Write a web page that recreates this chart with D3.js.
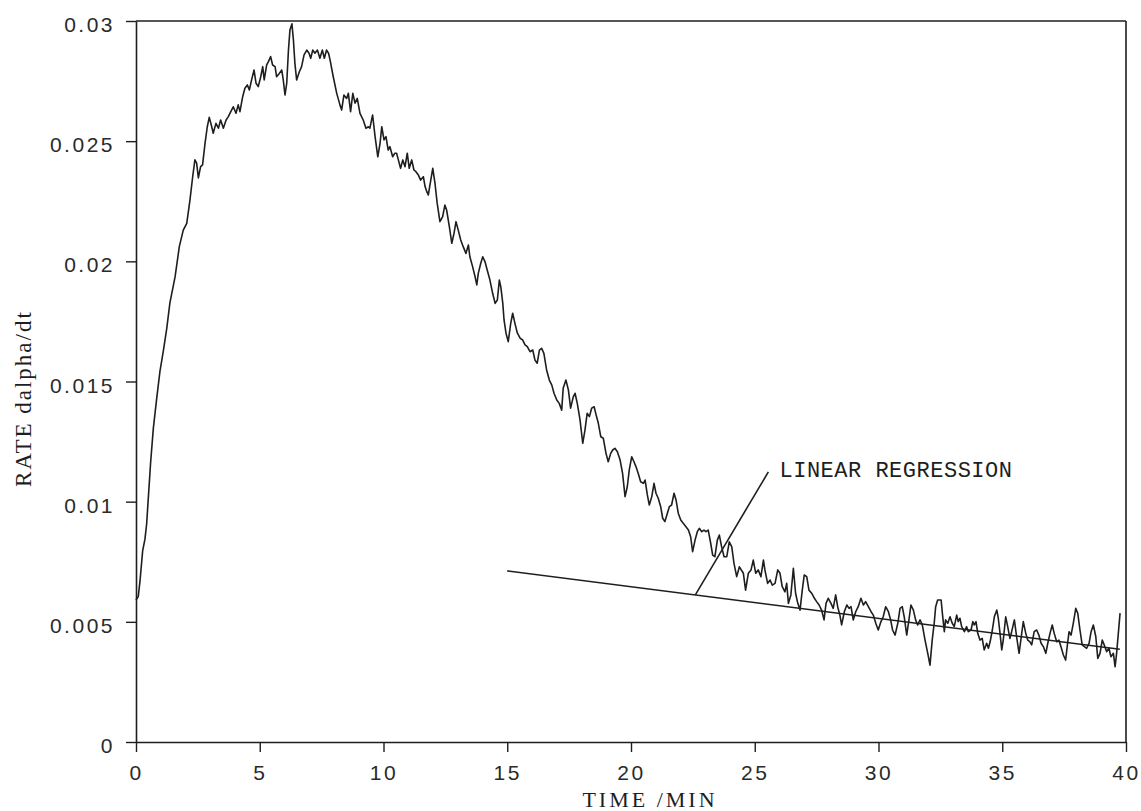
<!DOCTYPE html>
<html>
<head>
<meta charset="utf-8">
<script src="https://cdn.jsdelivr.net/npm/d3@7"></script>
<style>
  body { margin: 0; background: #fff; }
  svg { display: block; }
</style>
</head>
<body>
<svg id="chart" width="1141" height="811"></svg>
<script>
// Reaction rate trace: time in minutes, rate dalpha/dt
const time = [
  0, 0.09, 0.16, 0.27, 0.36, 0.43, 0.50, 0.59, 0.70, 0.84, 0.97, 1.10, 1.24, 1.37, 1.58, 1.75, 1.91, 2.05, 2.18, 2.29,
  2.38, 2.45, 2.52, 2.61, 2.69, 2.79, 2.88, 2.96, 3.06, 3.12, 3.23, 3.33, 3.42, 3.53, 3.64, 3.73, 3.83, 3.93, 4.04, 4.13,
  4.20, 4.31, 4.40, 4.50, 4.58, 4.67, 4.77, 4.85, 4.94, 5.04, 5.12, 5.18, 5.28, 5.35, 5.44, 5.52, 5.62, 5.68, 5.79, 5.89,
  5.95, 6.02, 6.09, 6.16, 6.22, 6.30, 6.36, 6.42, 6.49, 6.60, 6.69, 6.79, 6.90, 6.99, 7.06, 7.14, 7.23, 7.33, 7.43, 7.53,
  7.61, 7.70, 7.78, 7.84, 7.97, 8.11, 8.24, 8.31, 8.40, 8.51, 8.58, 8.67, 8.76, 8.85, 8.94, 9.05, 9.18, 9.29, 9.39, 9.45,
  9.56, 9.66, 9.77, 9.86, 9.93, 10.02, 10.10, 10.19, 10.26, 10.37, 10.46, 10.53, 10.60, 10.69, 10.78, 10.87, 10.96, 11.04, 11.14, 11.23,
  11.31, 11.41, 11.50, 11.61, 11.68, 11.75, 11.81, 11.91, 11.99, 12.08, 12.17, 12.28, 12.39, 12.48, 12.55, 12.66, 12.76, 12.85, 12.93, 13.02,
  13.12, 13.22, 13.33, 13.43, 13.49, 13.60, 13.70, 13.77, 13.83, 13.93, 14.01, 14.10, 14.19, 14.30, 14.41, 14.51, 14.60, 14.68, 14.74, 14.82,
  14.87, 14.95, 15.04, 15.14, 15.22, 15.31, 15.41, 15.52, 15.62, 15.72, 15.81, 15.92, 16.03, 16.12, 16.21, 16.30, 16.39, 16.48, 16.59, 16.70,
  16.80, 16.89, 17.00, 17.10, 17.20, 17.26, 17.37, 17.47, 17.56, 17.67, 17.74, 17.83, 17.94, 18.05, 18.14, 18.23, 18.32, 18.41, 18.51, 18.59,
  18.68, 18.78, 18.88, 18.99, 19.08, 19.18, 19.26, 19.35, 19.45, 19.56, 19.66, 19.76, 19.85, 19.93, 20.03, 20.12, 20.20, 20.29, 20.39, 20.50,
  20.57, 20.66, 20.74, 20.84, 20.93, 21.01, 21.10, 21.20, 21.28, 21.37, 21.47, 21.55, 21.64, 21.74, 21.82, 21.91, 22.01, 22.11, 22.22, 22.32,
  22.41, 22.49, 22.59, 22.68, 22.76, 22.86, 22.95, 23.03, 23.12, 23.22, 23.30, 23.39, 23.49, 23.57, 23.66, 23.76, 23.87, 23.97, 24.07, 24.16,
  24.27, 24.38, 24.54, 24.63, 24.74, 24.85, 24.94, 25.04, 25.14, 25.25, 25.35, 25.41, 25.52, 25.62, 25.71, 25.82, 25.93, 26.02, 26.11, 26.22,
  26.29, 26.36, 26.46, 26.56, 26.65, 26.74, 26.83, 26.92, 27.00, 27.10, 27.19, 27.30, 27.41, 27.50, 27.60, 27.70, 27.80, 27.88, 27.97, 28.08,
  28.17, 28.27, 28.35, 28.44, 28.51, 28.62, 28.72, 28.81, 28.89, 28.98, 29.08, 29.18, 29.29, 29.39, 29.48, 29.59, 29.70, 29.79, 29.89, 29.99,
  30.10, 30.19, 30.29, 30.40, 30.49, 30.57, 30.67, 30.78, 30.87, 30.96, 31.04, 31.14, 31.23, 31.31, 31.41, 31.50, 31.58, 31.68, 31.77, 31.88,
  31.99, 32.08, 32.17, 32.25, 32.31, 32.39, 32.53, 32.58, 32.66, 32.71, 32.80, 32.89, 32.98, 33.06, 33.16, 33.22, 33.29, 33.36, 33.47, 33.56,
  33.63, 33.74, 33.81, 33.87, 33.94, 34.01, 34.10, 34.19, 34.27, 34.37, 34.44, 34.51, 34.60, 34.68, 34.78, 34.84, 34.91, 34.98, 35.04, 35.14,
  35.22, 35.31, 35.38, 35.49, 35.58, 35.68, 35.76, 35.85, 35.95, 36.03, 36.12, 36.19, 36.29, 36.39, 36.48, 36.57, 36.66, 36.76, 36.84, 36.93,
  37.02, 37.10, 37.20, 37.29, 37.37, 37.47, 37.56, 37.64, 37.70, 37.78, 37.87, 37.97, 38.05, 38.14, 38.23, 38.32, 38.41, 38.51, 38.59, 38.68,
  38.78, 38.86, 38.95, 39.04, 39.12, 39.22, 39.31, 39.39, 39.49, 39.56, 39.62, 39.69, 39.76
];

const rate = [
  0.00591, 0.00605, 0.00668, 0.00796, 0.00843, 0.00907, 0.01019, 0.01162, 0.01305, 0.01433, 0.01544, 0.01624, 0.01719, 0.01827, 0.01936, 0.02061, 0.02130, 0.02158, 0.02255, 0.02352,
  0.02422, 0.02409, 0.02347, 0.02394, 0.02401, 0.02492, 0.02560, 0.02599, 0.02560, 0.02533, 0.02574, 0.02554, 0.02588, 0.02554, 0.02588, 0.02602, 0.02623, 0.02643, 0.02616, 0.02651,
  0.02623, 0.02685, 0.02720, 0.02734, 0.02713, 0.02755, 0.02796, 0.02741, 0.02727, 0.02768, 0.02810, 0.02755, 0.02817, 0.02831, 0.02852, 0.02817, 0.02810, 0.02768, 0.02782, 0.02796,
  0.02755, 0.02692, 0.02741, 0.02879, 0.02963, 0.02988, 0.02921, 0.02824, 0.02755, 0.02789, 0.02810, 0.02859, 0.02879, 0.02866, 0.02845, 0.02879, 0.02866, 0.02879, 0.02845, 0.02879,
  0.02845, 0.02879, 0.02866, 0.02838, 0.02768, 0.02699, 0.02651, 0.02630, 0.02692, 0.02678, 0.02699, 0.02623, 0.02699, 0.02658, 0.02678, 0.02616, 0.02588, 0.02554, 0.02560, 0.02554,
  0.02609, 0.02519, 0.02435, 0.02491, 0.02560, 0.02505, 0.02519, 0.02463, 0.02477, 0.02435, 0.02450, 0.02450, 0.02422, 0.02387, 0.02422, 0.02394, 0.02450, 0.02387, 0.02422, 0.02380,
  0.02373, 0.02359, 0.02338, 0.02352, 0.02311, 0.02290, 0.02276, 0.02338, 0.02387, 0.02325, 0.02241, 0.02165, 0.02186, 0.02234, 0.02214, 0.02144, 0.02075, 0.02117, 0.02165, 0.02130,
  0.02089, 0.02061, 0.02033, 0.02068, 0.02019, 0.01978, 0.01936, 0.01902, 0.01950, 0.01992, 0.02019, 0.01999, 0.01964, 0.01922, 0.01867, 0.01825, 0.01839, 0.01922, 0.01894, 0.01825,
  0.01756, 0.01701, 0.01666, 0.01742, 0.01784, 0.01742, 0.01701, 0.01680, 0.01673, 0.01652, 0.01645, 0.01624, 0.01631, 0.01589, 0.01576, 0.01631, 0.01638, 0.01617, 0.01548, 0.01506,
  0.01485, 0.01451, 0.01423, 0.01409, 0.01381, 0.01472, 0.01506, 0.01465, 0.01389, 0.01437, 0.01451, 0.01409, 0.01340, 0.01243, 0.01298, 0.01368, 0.01354, 0.01389, 0.01395, 0.01361,
  0.01326, 0.01270, 0.01264, 0.01201, 0.01166, 0.01201, 0.01215, 0.01222, 0.01208, 0.01173, 0.01118, 0.01021, 0.01062, 0.01132, 0.01187, 0.01166, 0.01146, 0.01118, 0.01083, 0.01076,
  0.01090, 0.01028, 0.00986, 0.01021, 0.01076, 0.01035, 0.01014, 0.00979, 0.00931, 0.00917, 0.00952, 0.00979, 0.00986, 0.01035, 0.01007, 0.00952, 0.00924, 0.00910, 0.00896, 0.00882,
  0.00854, 0.00792, 0.00841, 0.00875, 0.00889, 0.00875, 0.00882, 0.00875, 0.00882, 0.00827, 0.00778, 0.00771, 0.00841, 0.00861, 0.00813, 0.00771, 0.00771, 0.00833, 0.00813, 0.00744,
  0.00688, 0.00729, 0.00702, 0.00632, 0.00702, 0.00716, 0.00757, 0.00702, 0.00716, 0.00688, 0.00757, 0.00716, 0.00660, 0.00674, 0.00653, 0.00660, 0.00716, 0.00702, 0.00646, 0.00625,
  0.00660, 0.00577, 0.00612, 0.00723, 0.00619, 0.00577, 0.00549, 0.00632, 0.00695, 0.00688, 0.00632, 0.00619, 0.00598, 0.00584, 0.00570, 0.00549, 0.00508, 0.00577, 0.00598, 0.00577,
  0.00556, 0.00612, 0.00563, 0.00528, 0.00487, 0.00542, 0.00570, 0.00556, 0.00563, 0.00508, 0.00542, 0.00563, 0.00598, 0.00570, 0.00584, 0.00563, 0.00542, 0.00528, 0.00494, 0.00466,
  0.00501, 0.00521, 0.00563, 0.00542, 0.00508, 0.00466, 0.00445, 0.00494, 0.00556, 0.00563, 0.00521, 0.00445, 0.00508, 0.00570, 0.00549, 0.00508, 0.00487, 0.00508, 0.00487, 0.00424,
  0.00369, 0.00320, 0.00424, 0.00494, 0.00563, 0.00591, 0.00591, 0.00536, 0.00459, 0.00508, 0.00494, 0.00521, 0.00494, 0.00480, 0.00528, 0.00501, 0.00515, 0.00480, 0.00459, 0.00480,
  0.00459, 0.00466, 0.00501, 0.00487, 0.00501, 0.00452, 0.00424, 0.00431, 0.00383, 0.00411, 0.00390, 0.00417, 0.00466, 0.00521, 0.00549, 0.00515, 0.00452, 0.00383, 0.00424, 0.00521,
  0.00480, 0.00431, 0.00459, 0.00508, 0.00438, 0.00369, 0.00431, 0.00501, 0.00452, 0.00424, 0.00417, 0.00404, 0.00459, 0.00466, 0.00445, 0.00411, 0.00397, 0.00369, 0.00411, 0.00452,
  0.00487, 0.00452, 0.00417, 0.00424, 0.00397, 0.00362, 0.00341, 0.00411, 0.00459, 0.00445, 0.00494, 0.00556, 0.00536, 0.00466, 0.00404, 0.00397, 0.00390, 0.00411, 0.00459, 0.00487,
  0.00438, 0.00348, 0.00369, 0.00424, 0.00404, 0.00376, 0.00390, 0.00355, 0.00369, 0.00313, 0.00369, 0.00452, 0.00536
];

// Straight-line fit over the tail of the trace
const fitTime = [15, 39.75];
const fitRate = [0.00712, 0.00386];

// Pointer from the fit line to its label
const pointerTime = [22.6, 25.55];
const pointerRate = [0.00612, 0.01124];
const noteTime = 26.0;
const noteRate = 0.01103;
const noteText = "LINEAR REGRESSION";

const xTicks = [0, 5, 10, 15, 20, 25, 30, 35, 40];
const xTickLabels = ["0", "5", "10", "15", "20", "25", "30", "35", "40"];
const yTicks = [0, 0.005, 0.01, 0.015, 0.02, 0.025, 0.03];
const yTickLabels = ["0", "0.005", "0.01", "0.015", "0.02", "0.025", "0.03"];

const xTitle = "TIME /MIN";
const yTitle = "RATE dalpha/dt";

const ink = "#1e1e1e";
const svg = d3.select("#chart");

const x = d3.scaleLinear().domain([0, 40]).range([136, 1126]);
const y = d3.scaleLinear().domain([0, 0.03]).range([742, 21]);

// Frame: top and right edges
svg.append("line")
  .attr("x1", x(0)).attr("x2", x(40)).attr("y1", y(0.03)).attr("y2", y(0.03))
  .attr("stroke", ink).attr("stroke-width", 1.6);
svg.append("line")
  .attr("x1", x(40)).attr("x2", x(40)).attr("y1", y(0.03)).attr("y2", y(0))
  .attr("stroke", ink).attr("stroke-width", 1.6);

// Axes
const xAxis = d3.axisBottom(x)
  .tickValues(xTicks)
  .tickFormat((d, i) => xTickLabels[i])
  .tickSize(10).tickSizeOuter(0).tickPadding(8);
const yAxis = d3.axisLeft(y)
  .tickValues(yTicks)
  .tickFormat((d, i) => yTickLabels[i])
  .tickSize(10).tickSizeOuter(0).tickPadding(9);

const gx = svg.append("g").attr("transform", `translate(0,${y(0)})`).call(xAxis);
const gy = svg.append("g").attr("transform", `translate(${x(0)},0)`).call(yAxis);

[gx, gy].forEach(g => {
  g.select(".domain").attr("stroke", ink).attr("stroke-width", 1.6);
  g.selectAll(".tick line").attr("stroke", ink).attr("stroke-width", 1.4);
  g.selectAll(".tick text")
    .attr("fill", "#2a2a2a")
    .style("font-family", "'Liberation Sans', Arial, sans-serif")
    .style("font-size", "21px")
    .style("letter-spacing", "2.5px");
});
gx.selectAll(".tick text").attr("dy", "0.95em");
gy.selectAll(".tick text").attr("dy", "0.5em").attr("dx", "-2px");

// Rate trace
const line = d3.line().x(d => x(d[0])).y(d => y(d[1]));
svg.append("path")
  .datum(time.map((t, i) => [t, rate[i]]))
  .attr("d", line)
  .attr("fill", "none")
  .attr("stroke", ink)
  .attr("stroke-width", 1.6)
  .attr("stroke-linejoin", "round");

// Regression line
svg.append("path")
  .datum(fitTime.map((t, i) => [t, fitRate[i]]))
  .attr("d", line)
  .attr("fill", "none")
  .attr("stroke", ink)
  .attr("stroke-width", 1.6);

// Pointer and label
svg.append("path")
  .datum(pointerTime.map((t, i) => [t, pointerRate[i]]))
  .attr("d", line)
  .attr("fill", "none")
  .attr("stroke", ink)
  .attr("stroke-width", 1.6);
svg.append("text")
  .attr("x", x(noteTime)).attr("y", y(noteRate))
  .attr("fill", ink)
  .style("font-family", "'Liberation Mono', 'Courier New', monospace")
  .style("font-size", "22px")
  .style("letter-spacing", "0.5px")
  .text(noteText);

// Axis titles
svg.append("text")
  .attr("x", 650).attr("y", 807)
  .attr("text-anchor", "middle")
  .attr("fill", ink)
  .style("font-family", "'Liberation Serif', 'Times New Roman', serif")
  .style("font-size", "22px")
  .style("letter-spacing", "3px")
  .text(xTitle);
svg.append("text")
  .attr("transform", "translate(31,487) rotate(-90)")
  .attr("text-anchor", "start")
  .attr("fill", ink)
  .style("font-family", "'Liberation Serif', 'Times New Roman', serif")
  .style("font-size", "23px")
  .style("letter-spacing", "2px")
  .text(yTitle);
</script>
</body>
</html>
